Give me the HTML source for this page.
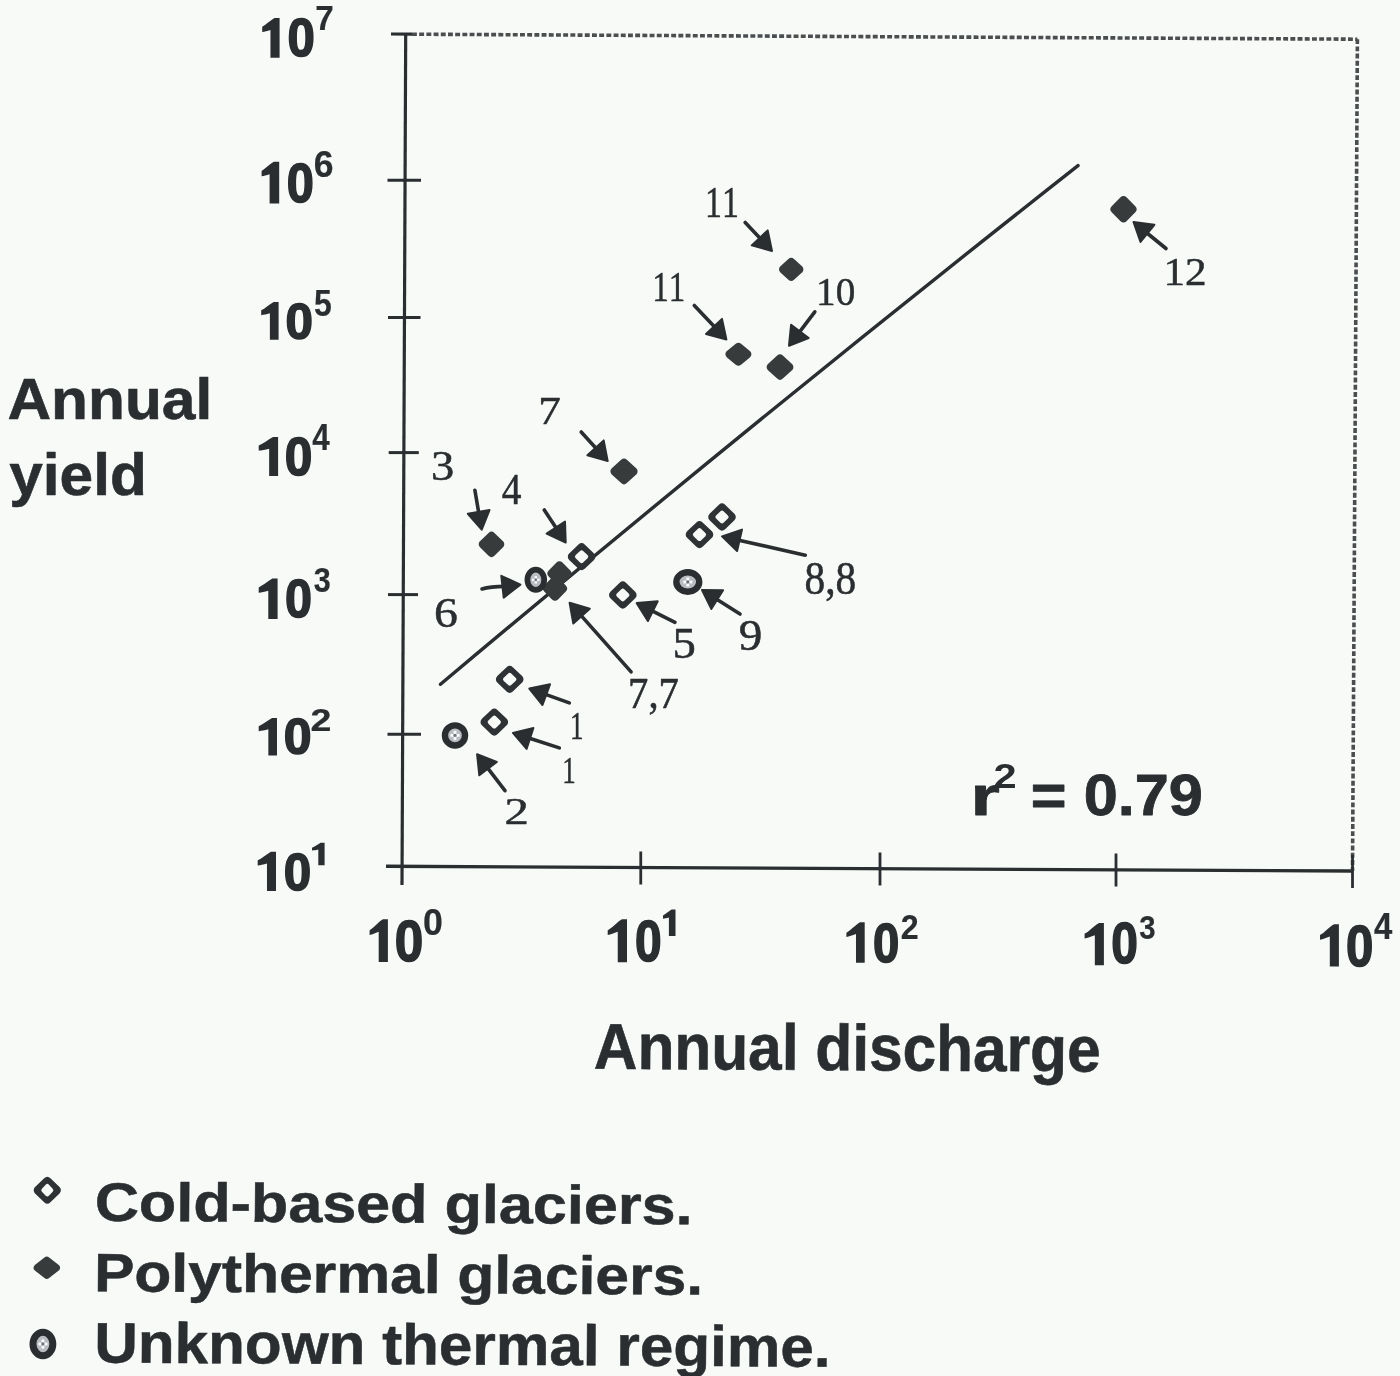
<!DOCTYPE html>
<html><head><meta charset="utf-8"><title>Annual yield vs annual discharge</title>
<style>
html,body{margin:0;padding:0;background:#f8faf8;}
body{width:1400px;height:1376px;overflow:hidden;}
svg{display:block;}
text{font-kerning:none;}
svg{will-change:transform;}
</style></head>
<body>
<svg width="1400" height="1376" viewBox="0 0 1400 1376">
<rect width="1400" height="1376" fill="#f8faf8"/>
<g>
<line x1="405.7" y1="34" x2="402" y2="885" stroke="#2a2e30" stroke-width="3.2" stroke-linecap="butt"/>
<line x1="386" y1="866.3" x2="1352.5" y2="871" stroke="#2a2e30" stroke-width="3.4" stroke-linecap="butt"/>
<line x1="391" y1="34" x2="412" y2="34.1" stroke="#2a2e30" stroke-width="3.2" stroke-linecap="butt"/>
<line x1="412" y1="34.2" x2="1357.4" y2="39.2" stroke="#4a4e4e" stroke-width="3.6" stroke-linecap="butt" stroke-dasharray="4.9 2.3"/>
<line x1="1357.4" y1="39.2" x2="1352.5" y2="871" stroke="#4a4e4e" stroke-width="3.6" stroke-linecap="butt" stroke-dasharray="4.9 2.3"/>
<line x1="387.5" y1="180.2" x2="421" y2="180.2" stroke="#2a2e30" stroke-width="3.0" stroke-linecap="butt"/>
<line x1="388" y1="317.6" x2="420.5" y2="317.6" stroke="#2a2e30" stroke-width="3.0" stroke-linecap="butt"/>
<line x1="388.7" y1="452.6" x2="418.8" y2="452.6" stroke="#2a2e30" stroke-width="3.0" stroke-linecap="butt"/>
<line x1="388" y1="594.6" x2="418" y2="594.6" stroke="#2a2e30" stroke-width="3.0" stroke-linecap="butt"/>
<line x1="387.5" y1="734.2" x2="421" y2="734.2" stroke="#2a2e30" stroke-width="3.0" stroke-linecap="butt"/>
<line x1="640.75" y1="851.5" x2="640.75" y2="884.5" stroke="#2a2e30" stroke-width="2.8" stroke-linecap="butt"/>
<line x1="880" y1="852.5" x2="880" y2="885.5" stroke="#2a2e30" stroke-width="2.8" stroke-linecap="butt"/>
<line x1="1116" y1="853.5" x2="1116" y2="886.5" stroke="#2a2e30" stroke-width="2.8" stroke-linecap="butt"/>
<line x1="1352.5" y1="855" x2="1352.5" y2="888" stroke="#2a2e30" stroke-width="2.8" stroke-linecap="butt"/>
<path d="M279.60,18.00 L279.60,57.80 L270.45,57.80 L270.45,29.94 C267.15,31.13 264.67,31.53 262.20,31.93 L262.20,26.76 C265.91,24.77 269.21,21.18 274.43,18.00 Z" fill="#2a2e30"/>
<text transform="translate(287.45,55.88) rotate(0.0) scale(0.9265,1)" font-family='"Liberation Sans", sans-serif' font-weight="bold" font-size="53.11" fill="#2a2e30" stroke="#2a2e30" stroke-width="1.60" stroke-linejoin="round">0</text>
<text transform="translate(315.17,30.10) rotate(0.0) scale(0.9451,1)" font-family='"Liberation Sans", sans-serif' font-weight="bold" font-size="35.18" fill="#2a2e30" stroke="#2a2e30" stroke-width="0.20" stroke-linejoin="round">7</text>
<path d="M279.20,161.70 L279.20,203.50 L269.59,203.50 L269.59,174.24 C266.39,175.49 264.00,175.91 261.60,176.33 L261.60,170.90 C265.19,168.81 268.39,165.04 273.77,161.70 Z" fill="#2a2e30"/>
<text transform="translate(286.77,202.16) rotate(0.0) scale(0.8879,1)" font-family='"Liberation Sans", sans-serif' font-weight="bold" font-size="54.94" fill="#2a2e30" stroke="#2a2e30" stroke-width="1.60" stroke-linejoin="round">0</text>
<text transform="translate(313.70,177.34) rotate(0.0) scale(0.9615,1)" font-family='"Liberation Sans", sans-serif' font-weight="bold" font-size="37.01" fill="#2a2e30" stroke="#2a2e30" stroke-width="0.20" stroke-linejoin="round">6</text>
<path d="M278.60,301.90 L278.60,339.80 L269.88,339.80 L269.88,313.27 C266.41,314.41 263.80,314.79 261.20,315.16 L261.20,310.24 C265.11,308.34 268.58,304.93 273.67,301.90 Z" fill="#2a2e30"/>
<text transform="translate(285.45,338.80) rotate(0.0) scale(0.9718,1)" font-family='"Liberation Sans", sans-serif' font-weight="bold" font-size="50.85" fill="#2a2e30" stroke="#2a2e30" stroke-width="1.60" stroke-linejoin="round">0</text>
<text transform="translate(314.02,315.54) rotate(0.0) scale(0.8744,1)" font-family='"Liberation Sans", sans-serif' font-weight="bold" font-size="36.55" fill="#2a2e30" stroke="#2a2e30" stroke-width="0.20" stroke-linejoin="round">5</text>
<path d="M278.10,437.00 L278.10,475.90 L269.15,475.90 L269.15,448.67 C264.97,449.84 261.84,450.23 258.70,450.62 L258.70,445.56 C263.40,443.61 267.59,440.11 273.04,437.00 Z" fill="#2a2e30"/>
<text transform="translate(284.84,474.88) rotate(0.0) scale(0.9270,1)" font-family='"Liberation Sans", sans-serif' font-weight="bold" font-size="53.53" fill="#2a2e30" stroke="#2a2e30" stroke-width="1.60" stroke-linejoin="round">0</text>
<text transform="translate(312.33,449.70) rotate(0.0) scale(0.8631,1)" font-family='"Liberation Sans", sans-serif' font-weight="bold" font-size="36.34" fill="#2a2e30" stroke="#2a2e30" stroke-width="0.20" stroke-linejoin="round">4</text>
<path d="M277.60,578.60 L277.60,619.10 L268.29,619.10 L268.29,590.75 C264.45,591.97 261.58,592.37 258.70,592.77 L258.70,587.51 C263.01,585.49 266.85,581.84 272.34,578.60 Z" fill="#2a2e30"/>
<text transform="translate(284.88,617.47) rotate(0.0) scale(0.8909,1)" font-family='"Liberation Sans", sans-serif' font-weight="bold" font-size="54.52" fill="#2a2e30" stroke="#2a2e30" stroke-width="1.60" stroke-linejoin="round">0</text>
<text transform="translate(313.70,592.30) rotate(0.0) scale(0.8508,1)" font-family='"Liberation Sans", sans-serif' font-weight="bold" font-size="35.94" fill="#2a2e30" stroke="#2a2e30" stroke-width="0.20" stroke-linejoin="round">3</text>
<path d="M277.00,718.00 L277.00,755.60 L268.35,755.60 L268.35,729.28 C264.49,730.41 261.60,730.78 258.70,731.16 L258.70,726.27 C263.04,724.39 266.90,721.01 272.11,718.00 Z" fill="#2a2e30"/>
<text transform="translate(283.82,754.01) rotate(0.0) scale(0.9925,1)" font-family='"Liberation Sans", sans-serif' font-weight="bold" font-size="50.42" fill="#2a2e30" stroke="#2a2e30" stroke-width="1.60" stroke-linejoin="round">0</text>
<text transform="translate(310.50,730.70) rotate(0.0) scale(1.2153,1)" font-family='"Liberation Sans", sans-serif' font-weight="bold" font-size="30.93" fill="#2a2e30" stroke="#2a2e30" stroke-width="0.20" stroke-linejoin="round">2</text>
<path d="M276.00,851.70 L276.00,890.90 L266.98,890.90 L266.98,863.46 C263.27,864.64 260.49,865.03 257.70,865.42 L257.70,860.32 C261.88,858.36 265.59,854.84 270.90,851.70 Z" fill="#2a2e30"/>
<text transform="translate(283.85,889.59) rotate(0.0) scale(0.9481,1)" font-family='"Liberation Sans", sans-serif' font-weight="bold" font-size="52.12" fill="#2a2e30" stroke="#2a2e30" stroke-width="1.60" stroke-linejoin="round">0</text>
<path d="M324.60,842.70 L324.60,865.20 L318.30,865.20 L318.30,849.45 C315.78,850.12 313.89,850.24 312.00,850.46 L312.00,847.76 C314.84,846.64 317.36,844.50 320.55,842.70 Z" fill="#2a2e30"/>
<path d="M387.90,919.30 L387.90,962.10 L378.70,962.10 L378.70,931.71 C375.06,933.00 372.33,934.49 369.60,934.92 L369.60,930.21 C373.69,928.07 377.33,922.72 382.98,919.30 Z" fill="#2a2e30"/>
<text transform="translate(394.87,961.03) rotate(0.0) scale(0.8817,1)" font-family='"Liberation Sans", sans-serif' font-weight="bold" font-size="58.19" fill="#2a2e30" stroke="#2a2e30" stroke-width="1.60" stroke-linejoin="round">0</text>
<text transform="translate(423.09,935.44) rotate(0.0) scale(0.9809,1)" font-family='"Liberation Sans", sans-serif' font-weight="bold" font-size="36.44" fill="#2a2e30" stroke="#2a2e30" stroke-width="0.20" stroke-linejoin="round">0</text>
<path d="M627.00,919.30 L627.00,962.30 L617.75,962.30 L617.75,931.77 C613.73,933.06 610.72,934.56 607.70,935.00 L607.70,930.26 C612.22,928.12 616.25,922.74 622.05,919.30 Z" fill="#2a2e30"/>
<text transform="translate(634.90,961.14) rotate(0.0) scale(0.8422,1)" font-family='"Liberation Sans", sans-serif' font-weight="bold" font-size="56.92" fill="#2a2e30" stroke="#2a2e30" stroke-width="1.60" stroke-linejoin="round">0</text>
<path d="M675.50,909.60 L675.50,936.00 L668.90,936.00 L668.90,917.52 C666.54,918.31 664.77,918.44 663.00,918.71 L663.00,915.54 C665.65,914.22 668.01,911.71 671.54,909.60 Z" fill="#2a2e30"/>
<path d="M864.70,922.30 L864.70,962.80 L855.99,962.80 L855.99,934.04 C852.16,935.26 849.28,936.68 846.40,937.08 L846.40,932.63 C850.72,930.60 854.55,925.54 860.04,922.30 Z" fill="#2a2e30"/>
<text transform="translate(873.03,961.66) rotate(0.0) scale(0.8633,1)" font-family='"Liberation Sans", sans-serif' font-weight="bold" font-size="54.80" fill="#2a2e30" stroke="#2a2e30" stroke-width="1.60" stroke-linejoin="round">0</text>
<text transform="translate(900.68,938.50) rotate(0.0) scale(0.9251,1)" font-family='"Liberation Sans", sans-serif' font-weight="bold" font-size="34.80" fill="#2a2e30" stroke="#2a2e30" stroke-width="0.20" stroke-linejoin="round">2</text>
<path d="M1103.90,923.10 L1103.90,965.30 L1094.83,965.30 L1094.83,935.34 C1090.74,936.60 1087.67,938.08 1084.60,938.50 L1084.60,933.86 C1089.20,931.75 1093.29,926.48 1099.05,923.10 Z" fill="#2a2e30"/>
<text transform="translate(1111.20,963.45) rotate(0.0) scale(0.8464,1)" font-family='"Liberation Sans", sans-serif' font-weight="bold" font-size="56.64" fill="#2a2e30" stroke="#2a2e30" stroke-width="1.60" stroke-linejoin="round">0</text>
<text transform="translate(1139.33,938.72) rotate(0.0) scale(0.8611,1)" font-family='"Liberation Sans", sans-serif' font-weight="bold" font-size="34.11" fill="#2a2e30" stroke="#2a2e30" stroke-width="0.20" stroke-linejoin="round">3</text>
<path d="M1338.90,924.30 L1338.90,966.60 L1329.81,966.60 L1329.81,936.57 C1325.88,937.84 1322.94,939.32 1320.00,939.74 L1320.00,935.09 C1324.41,932.97 1328.33,927.68 1334.04,924.30 Z" fill="#2a2e30"/>
<text transform="translate(1345.95,965.74) rotate(0.0) scale(0.8601,1)" font-family='"Liberation Sans", sans-serif' font-weight="bold" font-size="57.20" fill="#2a2e30" stroke="#2a2e30" stroke-width="1.60" stroke-linejoin="round">0</text>
<text transform="translate(1373.90,939.20) rotate(0.0) scale(0.9115,1)" font-family='"Liberation Sans", sans-serif' font-weight="bold" font-size="36.05" fill="#2a2e30" stroke="#2a2e30" stroke-width="0.20" stroke-linejoin="round">4</text>
<text transform="translate(7.39,419.10) rotate(0.0) scale(1.0506,1)" font-family='"Liberation Sans", sans-serif' font-weight="bold" font-size="57.55" fill="#2a2e30" stroke="#2a2e30" stroke-width="0.60" stroke-linejoin="round">Annual</text>
<text transform="translate(9.23,494.66) rotate(0.0) scale(1.0073,1)" font-family='"Liberation Sans", sans-serif' font-weight="bold" font-size="59.97" fill="#2a2e30" stroke="#2a2e30" stroke-width="0.60" stroke-linejoin="round">yield</text>
<text transform="translate(593.80,1068.70) rotate(0.33) scale(0.9315,1)" font-family='"Liberation Sans", sans-serif' font-weight="bold" font-size="64.86" fill="#2a2e30" stroke="#2a2e30" stroke-width="0.60" stroke-linejoin="round">Annual discharge</text>
<text transform="translate(970.44,814.60) rotate(0.0) scale(1.3655,1)" font-family='"Liberation Sans", sans-serif' font-weight="bold" font-size="55.15" fill="#2a2e30" stroke="#2a2e30" stroke-width="0.80" stroke-linejoin="round">r</text>
<text transform="translate(993.56,788.00) rotate(0.0) scale(1.2086,1)" font-family='"Liberation Sans", sans-serif' font-weight="bold" font-size="34.37" fill="#2a2e30">2</text>
<text transform="translate(1030.86,815.05) rotate(0.0) scale(1.0789,1)" font-family='"Liberation Sans", sans-serif' font-weight="bold" font-size="56.78" fill="#2a2e30" stroke="#2a2e30" stroke-width="0.80" stroke-linejoin="round">= 0.79</text>
<path d="M440.5,684.30 Q759.25,416.35 1078.0,165.62" fill="none" stroke="#2a2e30" stroke-width="3.4" stroke-linecap="round"/>
<polygon points="1123.50,200.30 1132.30,209.30 1123.50,218.30 1114.70,209.30" fill="#373b3b" stroke="#373b3b" stroke-width="8.40" stroke-linejoin="round"/>
<polygon points="791.20,262.20 799.20,269.40 791.20,276.60 783.20,269.40" fill="#373b3b" stroke="#373b3b" stroke-width="8.40" stroke-linejoin="round"/>
<polygon points="738.40,347.00 747.20,354.20 738.40,361.40 729.60,354.20" fill="#373b3b" stroke="#373b3b" stroke-width="8.40" stroke-linejoin="round"/>
<polygon points="780.00,358.70 789.20,367.10 780.00,375.50 770.80,367.10" fill="#373b3b" stroke="#373b3b" stroke-width="8.40" stroke-linejoin="round"/>
<polygon points="624.00,462.80 633.40,471.40 624.00,480.00 614.60,471.40" fill="#373b3b" stroke="#373b3b" stroke-width="8.40" stroke-linejoin="round"/>
<polygon points="491.50,535.90 500.10,544.30 491.50,552.70 482.90,544.30" fill="#373b3b" stroke="#373b3b" stroke-width="8.40" stroke-linejoin="round"/>
<polygon points="559.50,565.50 567.30,573.50 559.50,581.50 551.70,573.50" fill="#373b3b" stroke="#373b3b" stroke-width="8.40" stroke-linejoin="round"/>
<polygon points="555.00,580.50 562.80,588.50 555.00,596.50 547.20,588.50" fill="#373b3b" stroke="#373b3b" stroke-width="8.40" stroke-linejoin="round"/>
<polygon points="509.70,670.40 519.00,679.30 509.70,688.20 500.40,679.30" fill="#2e3234" stroke="#2e3234" stroke-width="9.00" stroke-linejoin="round"/>
<polygon points="509.70,675.10 514.10,679.30 509.70,683.50 505.30,679.30" fill="#f8faf8" stroke="#f8faf8" stroke-width="4.40" stroke-linejoin="round"/>
<polygon points="494.30,713.20 503.60,722.10 494.30,731.00 485.00,722.10" fill="#2e3234" stroke="#2e3234" stroke-width="9.00" stroke-linejoin="round"/>
<polygon points="494.30,717.90 498.70,722.10 494.30,726.30 489.90,722.10" fill="#f8faf8" stroke="#f8faf8" stroke-width="4.40" stroke-linejoin="round"/>
<polygon points="581.60,547.80 590.90,556.70 581.60,565.60 572.30,556.70" fill="#2e3234" stroke="#2e3234" stroke-width="9.00" stroke-linejoin="round"/>
<polygon points="581.60,552.50 586.00,556.70 581.60,560.90 577.20,556.70" fill="#f8faf8" stroke="#f8faf8" stroke-width="4.40" stroke-linejoin="round"/>
<polygon points="622.80,586.10 632.10,595.00 622.80,603.90 613.50,595.00" fill="#2e3234" stroke="#2e3234" stroke-width="9.00" stroke-linejoin="round"/>
<polygon points="622.80,590.80 627.20,595.00 622.80,599.20 618.40,595.00" fill="#f8faf8" stroke="#f8faf8" stroke-width="4.40" stroke-linejoin="round"/>
<polygon points="699.50,525.70 708.80,534.60 699.50,543.50 690.20,534.60" fill="#2e3234" stroke="#2e3234" stroke-width="9.00" stroke-linejoin="round"/>
<polygon points="699.50,530.40 703.90,534.60 699.50,538.80 695.10,534.60" fill="#f8faf8" stroke="#f8faf8" stroke-width="4.40" stroke-linejoin="round"/>
<polygon points="722.00,508.10 731.30,517.00 722.00,525.90 712.70,517.00" fill="#2e3234" stroke="#2e3234" stroke-width="9.00" stroke-linejoin="round"/>
<polygon points="722.00,512.80 726.40,517.00 722.00,521.20 717.60,517.00" fill="#f8faf8" stroke="#f8faf8" stroke-width="4.40" stroke-linejoin="round"/>
<ellipse cx="455" cy="735.4" rx="10.05" ry="10.10" fill="#b9bdc1" stroke="#2a2e30" stroke-width="6.35"/>
<rect x="450.43" y="733.97" width="2.86" height="2.86" fill="#fbfcfd"/>
<rect x="456.71" y="733.97" width="2.86" height="2.86" fill="#fbfcfd"/>
<rect x="453.57" y="730.83" width="2.86" height="2.86" fill="#fbfcfd"/>
<rect x="453.57" y="737.11" width="2.86" height="2.86" fill="#fbfcfd"/>
<circle cx="455" cy="735.4" r="1.43" fill="#6d7174"/>
<ellipse cx="535.8" cy="579.8" rx="8.40" ry="10.10" fill="#b9bdc1" stroke="#2a2e30" stroke-width="5.70"/>
<rect x="532.04" y="578.62" width="2.35" height="2.35" fill="#fbfcfd"/>
<rect x="537.21" y="578.62" width="2.35" height="2.35" fill="#fbfcfd"/>
<rect x="534.62" y="576.04" width="2.35" height="2.35" fill="#fbfcfd"/>
<rect x="534.62" y="581.21" width="2.35" height="2.35" fill="#fbfcfd"/>
<circle cx="535.8" cy="579.8" r="1.18" fill="#6d7174"/>
<ellipse cx="687.8" cy="582" rx="11.43" ry="9.68" fill="#b9bdc1" stroke="#2a2e30" stroke-width="6.40"/>
<rect x="683.30" y="580.59" width="2.81" height="2.81" fill="#fbfcfd"/>
<rect x="689.49" y="580.59" width="2.81" height="2.81" fill="#fbfcfd"/>
<rect x="686.39" y="577.50" width="2.81" height="2.81" fill="#fbfcfd"/>
<rect x="686.39" y="583.69" width="2.81" height="2.81" fill="#fbfcfd"/>
<circle cx="687.8" cy="582" r="1.41" fill="#6d7174"/>
<line x1="745.2" y1="222.5" x2="761.7" y2="240.1" stroke="#2a2e30" stroke-width="3.6" stroke-linecap="round"/>
<polygon points="772.0,251.0 751.7,245.4 767.7,230.4" fill="#2a2e30" stroke="#2a2e30" stroke-width="2" stroke-linejoin="round"/>
<line x1="694.3" y1="305.5" x2="716.1" y2="328.6" stroke="#2a2e30" stroke-width="3.6" stroke-linecap="round"/>
<polygon points="726.4,339.5 706.0,334.0 722.0,318.9" fill="#2a2e30" stroke="#2a2e30" stroke-width="2" stroke-linejoin="round"/>
<line x1="814.8" y1="311.8" x2="798.1" y2="333.8" stroke="#2a2e30" stroke-width="3.6" stroke-linecap="round"/>
<polygon points="789.0,345.7 791.1,324.7 808.7,338.0" fill="#2a2e30" stroke="#2a2e30" stroke-width="2" stroke-linejoin="round"/>
<line x1="1166" y1="248.5" x2="1145.1" y2="231.5" stroke="#2a2e30" stroke-width="3.6" stroke-linecap="round"/>
<polygon points="1133.5,222.0 1154.4,224.8 1140.5,241.9" fill="#2a2e30" stroke="#2a2e30" stroke-width="2" stroke-linejoin="round"/>
<line x1="581.2" y1="432" x2="597.6" y2="450.0" stroke="#2a2e30" stroke-width="3.6" stroke-linecap="round"/>
<polygon points="607.7,461.1 587.4,455.2 603.7,440.4" fill="#2a2e30" stroke="#2a2e30" stroke-width="2" stroke-linejoin="round"/>
<line x1="474.9" y1="490.3" x2="479.1" y2="514.9" stroke="#2a2e30" stroke-width="3.6" stroke-linecap="round"/>
<polygon points="481.7,529.7 467.8,513.8 489.5,510.1" fill="#2a2e30" stroke="#2a2e30" stroke-width="2" stroke-linejoin="round"/>
<line x1="544.3" y1="510" x2="557.5" y2="530.1" stroke="#2a2e30" stroke-width="3.6" stroke-linecap="round"/>
<polygon points="565.7,542.6 546.6,533.6 565.0,521.5" fill="#2a2e30" stroke="#2a2e30" stroke-width="2" stroke-linejoin="round"/>
<path d="M482,589 Q490,586.5 505.5,586.4" fill="none" stroke="#2a2e30" stroke-width="3.6" stroke-linecap="round"/>
<polygon points="520.4,584.7 503.7,597.6 501.3,575.8" fill="#2a2e30" stroke="#2a2e30" stroke-width="2" stroke-linejoin="round"/>
<line x1="631.1" y1="671.9" x2="579.6" y2="613.9" stroke="#2a2e30" stroke-width="3.6" stroke-linecap="round"/>
<polygon points="569.6,602.7 589.8,608.8 573.3,623.5" fill="#2a2e30" stroke="#2a2e30" stroke-width="2" stroke-linejoin="round"/>
<line x1="675" y1="622.3" x2="650.1" y2="609.8" stroke="#2a2e30" stroke-width="3.6" stroke-linecap="round"/>
<polygon points="636.7,603.1 657.7,601.3 647.9,621.0" fill="#2a2e30" stroke="#2a2e30" stroke-width="2" stroke-linejoin="round"/>
<line x1="740" y1="614" x2="714.7" y2="598.0" stroke="#2a2e30" stroke-width="3.6" stroke-linecap="round"/>
<polygon points="702.0,590.0 723.1,590.3 711.3,608.9" fill="#2a2e30" stroke="#2a2e30" stroke-width="2" stroke-linejoin="round"/>
<line x1="805.3" y1="555.2" x2="736.6" y2="539.7" stroke="#2a2e30" stroke-width="3.6" stroke-linecap="round"/>
<polygon points="722.0,536.4 742.0,529.6 737.1,551.1" fill="#2a2e30" stroke="#2a2e30" stroke-width="2" stroke-linejoin="round"/>
<line x1="569.3" y1="702.9" x2="543.4" y2="693.6" stroke="#2a2e30" stroke-width="3.6" stroke-linecap="round"/>
<polygon points="529.3,688.6 550.0,684.3 542.5,705.0" fill="#2a2e30" stroke="#2a2e30" stroke-width="2" stroke-linejoin="round"/>
<line x1="559.3" y1="747.9" x2="527.2" y2="737.5" stroke="#2a2e30" stroke-width="3.6" stroke-linecap="round"/>
<polygon points="512.9,732.9 533.4,728.0 526.6,748.9" fill="#2a2e30" stroke="#2a2e30" stroke-width="2" stroke-linejoin="round"/>
<line x1="505" y1="790.7" x2="486.2" y2="766.2" stroke="#2a2e30" stroke-width="3.6" stroke-linecap="round"/>
<polygon points="477.1,754.3 496.8,761.9 479.3,775.3" fill="#2a2e30" stroke="#2a2e30" stroke-width="2" stroke-linejoin="round"/>
<text transform="translate(704.98,216.85) rotate(0.0) scale(0.7721,1)" font-family='"Liberation Serif", serif' font-weight="normal" font-size="43.78" fill="#2a2e30" stroke="#2a2e30" stroke-width="0.50" stroke-linejoin="round">11</text>
<text transform="translate(652.35,300.75) rotate(0.0) scale(0.7776,1)" font-family='"Liberation Serif", serif' font-weight="normal" font-size="42.41" fill="#2a2e30" stroke="#2a2e30" stroke-width="0.50" stroke-linejoin="round">11</text>
<text transform="translate(816.11,304.86) rotate(0.0) scale(0.9743,1)" font-family='"Liberation Serif", serif' font-weight="normal" font-size="40.16" fill="#2a2e30" stroke="#2a2e30" stroke-width="0.50" stroke-linejoin="round">10</text>
<text transform="translate(1163.46,284.95) rotate(0.0) scale(1.0510,1)" font-family='"Liberation Serif", serif' font-weight="normal" font-size="41.08" fill="#2a2e30" stroke="#2a2e30" stroke-width="0.50" stroke-linejoin="round">12</text>
<text transform="translate(538.17,424.05) rotate(0.0) scale(1.0991,1)" font-family='"Liberation Serif", serif' font-weight="normal" font-size="41.08" fill="#2a2e30" stroke="#2a2e30" stroke-width="0.50" stroke-linejoin="round">7</text>
<text transform="translate(430.93,480.25) rotate(0.0) scale(1.1233,1)" font-family='"Liberation Serif", serif' font-weight="normal" font-size="41.38" fill="#2a2e30" stroke="#2a2e30" stroke-width="0.50" stroke-linejoin="round">3</text>
<text transform="translate(501.78,503.75) rotate(0.0) scale(0.8784,1)" font-family='"Liberation Serif", serif' font-weight="normal" font-size="44.82" fill="#2a2e30" stroke="#2a2e30" stroke-width="0.50" stroke-linejoin="round">4</text>
<text transform="translate(434.00,626.84) rotate(0.0) scale(1.1336,1)" font-family='"Liberation Serif", serif' font-weight="normal" font-size="42.12" fill="#2a2e30" stroke="#2a2e30" stroke-width="0.50" stroke-linejoin="round">6</text>
<text transform="translate(672.54,657.62) rotate(0.0) scale(1.0658,1)" font-family='"Liberation Serif", serif' font-weight="normal" font-size="43.79" fill="#2a2e30" stroke="#2a2e30" stroke-width="0.50" stroke-linejoin="round">5</text>
<text transform="translate(738.73,649.62) rotate(0.0) scale(1.0764,1)" font-family='"Liberation Serif", serif' font-weight="normal" font-size="43.76" fill="#2a2e30" stroke="#2a2e30" stroke-width="0.50" stroke-linejoin="round">9</text>
<text transform="translate(569.88,739.05) rotate(0.0) scale(0.6878,1)" font-family='"Liberation Serif", serif' font-weight="normal" font-size="39.23" fill="#2a2e30" stroke="#2a2e30" stroke-width="0.50" stroke-linejoin="round">1</text>
<text transform="translate(562.18,783.35) rotate(0.0) scale(0.7069,1)" font-family='"Liberation Serif", serif' font-weight="normal" font-size="38.17" fill="#2a2e30" stroke="#2a2e30" stroke-width="0.50" stroke-linejoin="round">1</text>
<text transform="translate(504.51,824.05) rotate(0.0) scale(1.2781,1)" font-family='"Liberation Serif", serif' font-weight="normal" font-size="38.06" fill="#2a2e30" stroke="#2a2e30" stroke-width="0.50" stroke-linejoin="round">2</text>
<text transform="translate(804.52,593.60) rotate(0.0) scale(0.8940,1)" font-family='"Liberation Serif", serif' font-weight="normal" font-size="46.31" fill="#2a2e30" stroke="#2a2e30" stroke-width="0.60" stroke-linejoin="round">8,8</text>
<text transform="translate(628.12,708.00) rotate(0.0) scale(0.8950,1)" font-family='"Liberation Serif", serif' font-weight="normal" font-size="45.36" fill="#2a2e30" stroke="#2a2e30" stroke-width="0.60" stroke-linejoin="round">7,7</text>
<polygon points="47.30,1181.40 56.40,1190.20 47.30,1199.00 38.20,1190.20" fill="#2e3234" stroke="#2e3234" stroke-width="9.00" stroke-linejoin="round"/>
<polygon points="47.30,1186.20 51.10,1190.20 47.30,1194.20 43.50,1190.20" fill="#f8faf8" stroke="#f8faf8" stroke-width="4.40" stroke-linejoin="round"/>
<polygon points="46.80,1260.50 56.10,1267.80 46.80,1275.10 37.50,1267.80" fill="#373b3b" stroke="#373b3b" stroke-width="7.60" stroke-linejoin="round"/>
<ellipse cx="42.9" cy="1344.0" rx="9.93" ry="11.80" fill="#b9bdc1" stroke="#2a2e30" stroke-width="6.97"/>
<rect x="38.36" y="1342.58" width="2.83" height="2.83" fill="#fbfcfd"/>
<rect x="44.60" y="1342.58" width="2.83" height="2.83" fill="#fbfcfd"/>
<rect x="41.48" y="1339.46" width="2.83" height="2.83" fill="#fbfcfd"/>
<rect x="41.48" y="1345.70" width="2.83" height="2.83" fill="#fbfcfd"/>
<circle cx="42.9" cy="1344.0" r="1.42" fill="#6d7174"/>
<text transform="translate(94.74,1220.80) rotate(0.33) scale(1.1255,1)" font-family='"Liberation Sans", sans-serif' font-weight="bold" font-size="54.31" fill="#2a2e30" stroke="#2a2e30" stroke-width="0.50" stroke-linejoin="round">Cold-based glaciers.</text>
<text transform="translate(93.90,1291.20) rotate(0.33) scale(1.1210,1)" font-family='"Liberation Sans", sans-serif' font-weight="bold" font-size="54.03" fill="#2a2e30" stroke="#2a2e30" stroke-width="0.50" stroke-linejoin="round">Polythermal glaciers.</text>
<text transform="translate(94.33,1362.50) rotate(0.33) scale(1.0530,1)" font-family='"Liberation Sans", sans-serif' font-weight="bold" font-size="57.20" fill="#2a2e30" stroke="#2a2e30" stroke-width="0.50" stroke-linejoin="round">Unknown thermal regime.</text>
</g>
</svg>
</body></html>
